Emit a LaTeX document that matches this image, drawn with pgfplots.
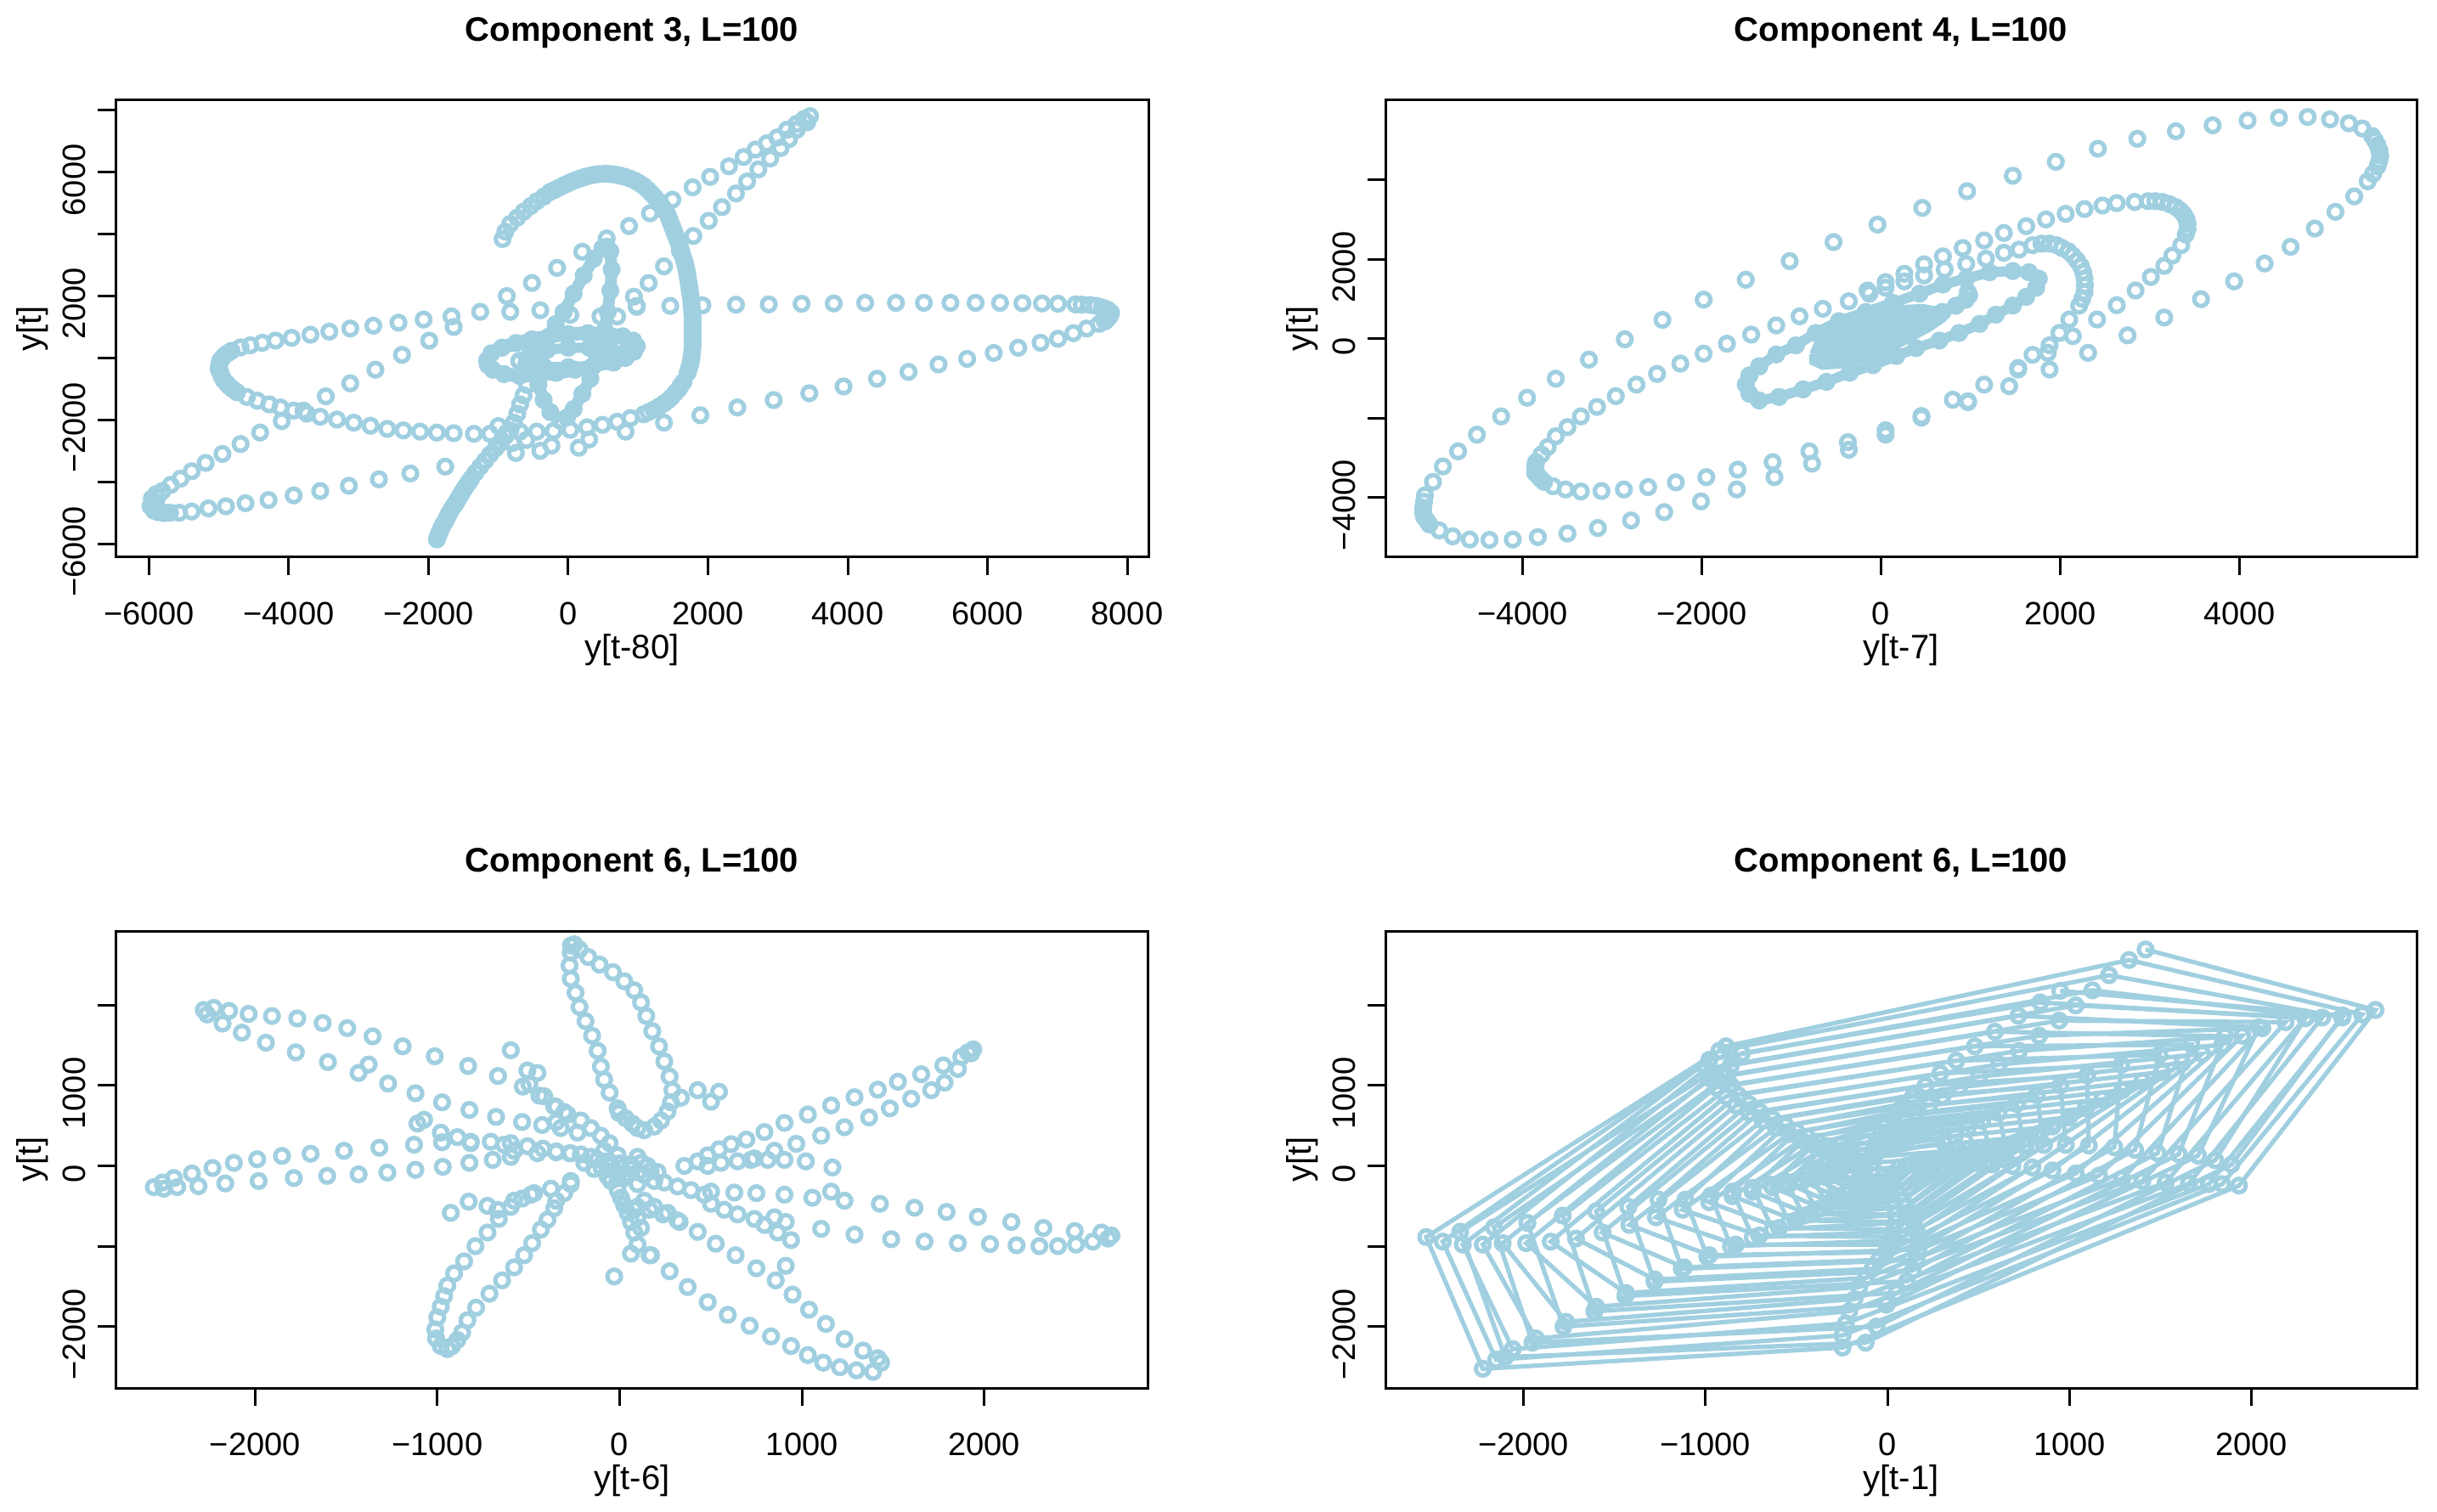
\documentclass[border=0pt]{standalone}
\usepackage{pgfplots}
\pgfplotsset{compat=1.18}
\usepackage{fontspec}
\setmainfont{Liberation Sans}
\definecolor{lb}{HTML}{A0CFE0}
\pgfplotsset{
 rstyle/.style={scale only axis, width=304pt, height=134.5pt, anchor=south west,
  axis line style={line width=0.75pt, black},
  every tick/.style={line width=0.75pt, black},
  tick align=outside, tick pos=left, major tick length=5.25pt,
  xticklabel style={font=\fontsize{9.5}{11}\selectfont, yshift=-4.5pt},
  yticklabel style={font=\fontsize{9.5}{11}\selectfont, rotate=90, anchor=south, xshift=-2.3pt},
  title style={font=\bfseries\fontsize{10}{12}\selectfont, at={(axis description cs:0.5,1.103)}, anchor=center},
  xlabel style={font=\fontsize{10}{12}\selectfont, at={(axis description cs:0.5,-0.2026)}, anchor=center},
  ylabel style={font=\fontsize{10}{12}\selectfont, at={(axis description cs:-0.0806,0.5)}, anchor=center},
  clip=false},
 pts/.style={only marks, mark=o, mark size=2pt, color=lb, mark options={line width=1.3pt}},
 band/.style={color=lb, line width=#1, mark=o, mark size=2pt, mark options={line width=1.3pt}},
}
\begin{document}
\begin{tikzpicture}
\path[use as bounding box] (0,0) rectangle (717.25pt,444.75pt);
% ---------------- Panel 1 ----------------
\begin{axis}[rstyle, at={(34pt,280.75pt)},
  xmin=-6480, xmax=8304, ymin=-6436, ymax=8324,
  xtick={-6000,-4000,-2000,0,2000,4000,6000,8000},
  xticklabels={−6000,−4000,−2000,0,2000,4000,6000,8000},
  ytick={-6000,-4000,-2000,0,2000,4000,6000,8000},
  yticklabels={−6000,,−2000,,2000,,6000,},
  title={Component 3, L=100}, xlabel={y[t-80]}, ylabel={y[t]}]
\addplot[pts] coordinates {
(-5930,-4690) (-5960,-4540) (-5980,-4790) (-5930,-4930) (-5870,-4980) (-5790,-5010) (-5700,-5000) (-5570,-5000) (-5390,-4960) (-5150,-4860) (-4900,-4790) (-4620,-4690) (-4290,-4590) (-3930,-4440) (-3550,-4300) (-3140,-4130) (-2710,-3920) (-2260,-3730) (-1760,-3510)
(-5900,-4400) (-5830,-4950)
(-750,-3070) (-240,-2830) (300,-2630) (820,-2380) (1370,-2090) (1890,-1850) (2420,-1600) (2940,-1360) (3450,-1140) (3940,-920) (4420,-670) (4870,-450) (5300,-210) (5710,-30) (6090,160) (6440,330) (6760,490) (7010,620) (7230,800) (7420,950) (7600,1100) (7710,1240) (7760,1390) (7730,1540) (7640,1630) (7470,1710) (7260,1730) (7010,1750) (6780,1760) (6500,1770) (6180,1780) (5830,1780) (5470,1780) (5090,1780) (4690,1780) (4250,1780) (3800,1760) (3340,1750) (2870,1730) (2400,1720) (1920,1700) (1460,1680) (980,1650) (700,1340)
(7680,1180) (7740,1320) (7770,1460) (7700,1580) (7560,1680) (7350,1720)
(3420,7610) (3270,7370) (3160,7070) (3040,6780) (2890,6440) (2720,6090) (2560,5700) (2400,5310) (2200,4870) (2010,4430) (1790,3940) (1600,3450) (1370,2960) (1150,2420) (940,1980) (980,1680)
(3460,7810) (3370,7710) (3270,7560) (3130,7370) (2990,7120) (2840,6930) (2680,6730) (2510,6490) (2300,6190) (2030,5850) (1780,5510) (1490,5110) (1170,4670) (870,4260) (550,3860) (200,3430) (-160,2910) (-520,2420) (-880,2000) (-1260,1490) (-1670,1340) (-2070,1240) (-2430,1140) (-2790,1040) (-3120,950) (-3420,850) (-3690,750) (-3960,650) (-4190,560) (-4380,490) (-4550,410) (-4690,340) (-4820,230) (-4910,100) (-4980,-80) (-5000,-280) (-4980,-470) (-4930,-720) (-4850,-920) (-4740,-1110) (-4600,-1260) (-4450,-1380) (-4280,-1500) (-4120,-1600) (-3930,-1700) (-3740,-1800) (-3550,-1900) (-3310,-1990) (-3070,-2090) (-2830,-2190) (-2590,-2290) (-2360,-2340) (-2120,-2380) (-1880,-2410) (-1640,-2430) (-1350,-2450) (-1120,-2450) (-880,-2410) (-690,-2380) (-450,-2380) (-210,-2360) (30,-2320) (270,-2240) (490,-2160) (700,-2060) (890,-1940) (1080,-1820) (1220,-1670) (1370,-1470) (1480,-1260) (1580,-1010) (1650,-770) (1710,-470) (1750,-180) (1770,115) (1780,410) (1780,700) (1780,1000) (1780,1290) (1770,1590) (1760,1880) (1740,2170) (1720,2470) (1700,2760) (1670,3060) (1630,3350) (1590,3640) (1540,3940) (1490,4230) (1440,4530) (1370,4820) (1290,5060) (1190,5310) (1080,5550) (960,5720) (810,5850) (670,5920) (530,5950) (380,5920) (240,5850) (110,5750) (-20,5620) (-140,5490) (-260,5360) (-350,5210) (-450,5060) (-540,4900) (-640,4720) (-730,4530) (-830,4330) (-900,4080) (-940,3840)
(1730,-320) (1760,-30) (1775,260) (1780,555) (1780,850) (1780,1145) (1775,1440) (1765,1735) (1750,2020) (1730,2320) (1710,2615) (1685,2910) (1650,3200) (1610,3500) (1565,3790) (1515,4080) (1465,4380) (1410,4680) (1330,4940) (1240,5190) (1140,5430) (1020,5640) (890,5790) (740,5890) (600,5940) (450,5940) (310,5890) (175,5800) (45,5690) (-80,5560) (-200,5420) (1610,-890) (1530,-1130) (1430,-1370) (1300,-1570) (1150,-1750)
(-4950,0) (-4860,170) (-4990,-180) (-5000,-380) (-4960,-600) (-4890,-820) (-4800,-1010)
(-1640,1000) (-1990,560) (-2380,100) (-2760,-380) (-3120,-820) (-3470,-1240) (-3790,-1700) (-4100,-2040) (-4410,-2410) (-4690,-2780) (-4950,-3100) (-5190,-3390) (-5390,-3660) (-5550,-3900) (-5690,-4100) (-5810,-4300) (-5880,-4490)
(-1880,-5860) (-1850,-5670) (-1810,-5470) (-1760,-5280) (-1720,-5080) (-1670,-4880) (-1610,-4690) (-1560,-4490) (-1510,-4300) (-1450,-4100) (-1390,-3900) (-1330,-3710) (-1260,-3510) (-1190,-3320) (-1120,-3120) (-1040,-2920) (-960,-2730) (-900,-2530) (-830,-2340) (-780,-2090) (-730,-1800) (-690,-1500) (-640,-1210) (-590,-870)
(-1865,-5760) (-1830,-5570) (-1790,-5370) (-1740,-5180) (-1695,-4980) (-1640,-4780) (-1585,-4590) (-1535,-4400) (-1480,-4200) (-1420,-4000)
(-830,1490) (-400,1540) (30,1390) (460,1340) (-800,-2750) (-400,-3000) (150,-2900) (-1000,-2200) (-600,-2650)
};
\addplot[band=4pt] coordinates {
(-1160,-80) (-1100,150) (-950,330) (-750,480) (-520,600) (-270,700) (0,770) (280,800) (550,780) (780,700) (930,560) (980,380) (940,200) (800,30) (600,-120) (360,-260) (100,-380) (-170,-480) (-440,-560) (-700,-580) (-920,-520) (-1080,-380) (-1150,-230) (-1160,-80)
};
\addplot[band=3pt] coordinates {
(-700,-100) (-550,120) (-300,260) (0,330) (300,330) (600,280) (800,150) (820,0) (650,-150) (350,-260) (0,-300) (-350,-280) (-600,-200) (-700,-100)
};
\addplot[band=3.5pt] coordinates {
(-114,-2021) (-257,-1747) (-352,-1355) (-428,-865) (-447,-375) (-400,115) (-304,605) (-180,1095) (-66,1487) (77,2075) (220,2663) (364,3202) (488,3545) (554,3594)
(602,3447) (621,2859) (602,2173) (564,1487) (526,899) (488,409) (411,-81) (316,-669) (201,-1159) (77,-1649) (-18,-1923) (-114,-2021)
};
\end{axis}
% ---------------- Panel 2 ----------------
\begin{axis}[rstyle, at={(407.75pt,280.75pt)}, width=303.5pt,
  xmin=-5531, xmax=5976, ymin=-5506, ymax=6002,
  xtick={-4000,-2000,0,2000,4000},
  xticklabels={−4000,−2000,0,2000,4000},
  ytick={-4000,-2000,0,2000,4000},
  yticklabels={−4000,,0,2000,},
  title={Component 4, L=100}, xlabel={y[t-7]}, ylabel={y[t]}]
\addplot[color=lb, fill=lb, line width=2pt] coordinates {
(-764,-397) (-690,-15) (-504,328) (-207,634) (128,749) (463,787) (649,710) (686,481) (537,252) (314,-15) (91,-283) (-170,-512) (-430,-665) (-653,-703) (-764,-588) (-764,-397)
};
\addplot[band=3pt] coordinates {
(600,600) (686,672) (834,825) (946,978) (983,1092) (968,1169)
};
\addplot[band=3pt] coordinates {
(-1360,-700) (-1170,-400) (-950,-170) (-730,140) (-470,440) (-170,670) (130,900) (430,1130) (690,1360) (950,1510) (1210,1670) (1470,1700) (1650,1670) (1760,1510) (1730,1280) (1620,1050) (1470,830) (1280,600) (1100,370) (870,140) (650,-50) (390,-240) (170,-440) (-90,-670) (-350,-860) (-610,-1090) (-870,-1280) (-1140,-1470) (-1360,-1560) (-1470,-1390) (-1510,-1160) (-1470,-930) (-1360,-700)
};
\addplot[pts] coordinates {
(4440,5560) (4760,5580) (5010,5520) (5220,5420) (5370,5290) (5480,5100) (5540,4870) (5570,4610) (5540,4340) (5430,3960) (5280,3580) (5070,3190) (4840,2770) (4570,2310) (4280,1890) (3940,1440) (3570,990) (3160,530) (2750,80) (2310,-360) (1880,-780) (1430,-1200) (970,-1600) (450,-1990) (50,-2420) (-360,-2800) (-770,-3150) (-1190,-3490) (-1610,-3800) (-2010,-4100) (-2420,-4370) (-2790,-4580) (-3160,-4770) (-3500,-4910) (-3830,-5000) (-4110,-5060) (-4370,-5070) (-4590,-5060) (-4780,-4980) (-4930,-4830) (-5040,-4680) (-5100,-4490) (-5110,-4260) (-5090,-3950) (-5000,-3610) (-4890,-3220) (-4720,-2840) (-4510,-2420) (-4240,-1960) (-3950,-1490) (-3630,-1010) (-3260,-530) (-2860,-20) (-2440,470) (-1980,980) (-1510,1480) (-1020,1950) (-530,2430) (-40,2870) (460,3290) (960,3710) (1470,4100) (1950,4450) (2420,4780) (2860,5030) (3290,5220) (3700,5370) (4090,5490)
(5510,4990) (5560,4740) (5560,4480) (5490,4150) (-5070,-4580) (-5110,-4380) (-5100,-4110)
(3400,2620) (3350,2350) (3250,2090) (3160,1830) (3010,1550) (2840,1210) (2630,840) (2410,480) (2140,60) (1860,-360) (1530,-780) (1150,-1160) (800,-1540) (450,-1950) (50,-2310) (-370,-2610) (-800,-2840) (-1210,-3110) (-1600,-3300) (-1950,-3490) (-2290,-3620) (-2600,-3740) (-2870,-3800) (-3120,-3840) (-3350,-3850) (-3520,-3800) (-3660,-3720) (-3760,-3610) (-3830,-3450) (-3860,-3300) (-3850,-3110) (-3790,-2920) (-3720,-2730) (-3630,-2460) (-3500,-2230) (-3350,-1960) (-3170,-1720) (-2960,-1450) (-2730,-1160) (-2500,-890) (-2240,-630) (-1980,-380) (-1720,-130) (-1450,100) (-1170,330) (-910,560) (-650,750) (-360,940) (-150,1210) (50,1420) (260,1630) (480,1870) (690,2070) (910,2280) (1150,2470) (1370,2660) (1620,2830) (1840,3000) (2060,3140) (2270,3260) (2470,3350) (2630,3410) (2830,3440) (2980,3460) (3140,3440) (3290,3310) (3380,3120) (3420,2890)
(3060,3460) (3220,3380) (3340,3220) (3410,3000) (3420,2760) (-3800,-3530) (-3860,-3380) (-3860,-3200)
(1690,2350) (1880,2390) (2020,2280) (2140,2090) (2230,1820) (2270,1510) (2270,1170) (2210,830) (2100,480) (1990,140) (1880,-170) (1690,-410) (1530,-740) (970,-1580)
(1540,2240) (1370,2160) (1170,2010) (950,1880) (710,1740) (480,1590) (260,1440) (50,1280) (-130,1130)
(1790,2390) (1960,2350) (2090,2200) (2190,1960) (2255,1670) (2275,1340) (2245,1000)
};
\end{axis}
% ---------------- Panel 3 ----------------
\begin{axis}[rstyle, at={(34pt,36.25pt)},
  xmin=-2765, xmax=2900, ymin=-2764, ymax=2922,
  xtick={-2000,-1000,0,1000,2000},
  xticklabels={−2000,−1000,0,1000,2000},
  ytick={-2000,-1000,0,1000,2000},
  yticklabels={−2000,,0,1000,},
  title={Component 6, L=100}, xlabel={y[t-6]}, ylabel={y[t]}]
\addplot[pts] coordinates {
(-2281,1939) (-2226,1965) (-2142,1928) (-2035,1890) (-1907,1864) (-1768,1834) (-1629,1777) (-1494,1713) (-1355,1611) (-1190,1487) (-1014,1363) (-831,1242) (-667,1118) (-531,986) (-440,873) (-359,741) (-286,639) (-213,564) (-158,470) (-103,376) (-55,282)
(-2262,1883) (-2178,1770) (-2072,1657) (-1940,1532) (-1776,1412) (-1600,1291) (-1432,1156) (-1270,1024) (-1120,903) (-974,790) (-824,696) (-678,609) (-535,545) (-425,508) (-323,470) (-231,413)
(-1377,1261) (-597,1438) (-506,1186) (-451,1156) (-495,1016) (-414,866) (-348,734) (-304,670) (-348,545) (-1109,526) (-1073,572) (-981,413) (-890,357) (-817,282) (-634,263) (-579,187)
(-2555,-265) (-2508,-208) (-2445,-152) (-2346,-95) (-2233,-27) (-2116,37) (-1988,82) (-1852,123) (-1695,150) (-1512,187) (-1318,225) (-1128,263) (-974,293) (-817,300) (-707,300) (-597,282) (-506,244) (-421,214) (-348,180) (-275,157) (-213,142)
(-2500,-284) (-2427,-265) (-2310,-253) (-2163,-219) (-1980,-189) (-1787,-152) (-1604,-125) (-1432,-106) (-1274,-84) (-1120,-50) (-970,-12) (-824,37) (-696,74) (-597,112) (-451,157) (-348,169) (-268,157)
(-11,715) (-55,911) (-85,1073) (-103,1235) (-121,1431) (-151,1619) (-187,1800) (-220,1977) (-242,2154) (-268,2327) (-275,2493) (-268,2655) (-268,2741) (-249,2757) (-220,2692) (-172,2598) (-110,2504) (-37,2410) (25,2297) (80,2184) (117,2033) (146,1864) (179,1675) (216,1487) (245,1299) (274,1110) (289,941) (281,790) (263,677) (227,564) (190,489) (135,443) (98,470) (69,526) (32,594) (-4,658)
(428,941) (545,922) (501,798) (336,847)
(-158,112) (-85,187) (-11,131) (98,112) (153,-1) (135,-114) (25,-152) (-66,-133) (-140,-39) (-194,37) (-48,-1) (62,-39) (208,-76) (190,-189) (98,-227) (-11,-152) (-120,80) (-60,60) (0,30) (60,20) (120,40) (170,-60) (100,-80) (40,-100) (-30,-60) (-100,-20)
(355,-1) (428,56) (483,131) (545,206) (611,270) (695,327) (794,421) (904,534) (1032,639) (1160,752) (1288,854) (1416,948) (1526,1046) (1654,1140) (1775,1250) (1874,1355) (1910,1412) (1939,1449)
(1928,1400) (1855,1205) (1782,1035) (1709,941) (1599,835) (1482,715) (1368,602) (1233,481) (1105,376) (969,274) (849,187) (739,93) (647,56) (556,37) (483,-1)
(1167,-20) (1021,56) (904,74) (812,74) (720,74)
(2697,-867) (2642,-830) (2496,-811) (2324,-773) (2148,-698) (1965,-634) (1793,-573) (1617,-521) (1427,-472) (1233,-434) (1057,-397) (904,-359) (750,-340) (629,-333) (501,-321) (391,-302) (318,-257) (245,-208)
(2679,-905) (2595,-943) (2503,-980) (2404,-999) (2302,-999) (2177,-988) (2031,-973) (1855,-962) (1672,-943) (1489,-913) (1288,-856) (1105,-784) (940,-924) (911,-698) (849,-641) (794,-736) (739,-660) (647,-604) (574,-547) (501,-472) (464,-359) (1160,-321)
(1434,-2449) (1390,-2563) (1299,-2544) (1208,-2506) (1116,-2449) (1032,-2355) (940,-2242) (830,-2122) (713,-1990) (593,-1854) (483,-1696) (373,-1508) (274,-1312) (172,-1112) (318,-679) (263,-585) (190,-510) (135,-434)
(1416,-2393) (1335,-2299) (1233,-2156) (1131,-1967) (1039,-1790) (948,-1602) (856,-1425) (750,-1274) (636,-1112) (527,-969) (428,-822) (329,-698) (238,-604) (164,-547) (98,-510) (911,-1244) (867,-830)
(-30,-1376) (62,-1093) (164,-1112) (98,-980) (80,-830) (62,-698) (44,-585) (25,-491) (7,-397) (-11,-302) (-48,-189) (80,-547) (98,-641) (117,-773)
(-268,-227) (-304,-340) (-348,-434) (-359,-528) (-396,-671) (-432,-792) (-480,-962) (-524,-1112) (-579,-1263) (-645,-1425) (-714,-1591) (-787,-1764) (-835,-1922) (-864,-2073) (-890,-2167) (-919,-2242) (-945,-2280) (-981,-2242) (-1007,-2148) (-1011,-2035) (-1000,-1885) (-981,-1752) (-963,-1621) (-945,-1489) (-908,-1338) (-853,-1188) (-791,-999) (-725,-830) (-663,-660) (-597,-510) (-535,-408) (-469,-340) (-377,-284) (-268,-189)
(-926,-585) (-828,-446) (-725,-498) (-670,-547) (-579,-434) (-487,-359)
};
\end{axis}
% ---------------- Panel 4 ----------------
\begin{axis}[rstyle, at={(407.75pt,36.25pt)}, width=303.5pt,
  xmin=-2758, xmax=2907, ymin=-2764, ymax=2922,
  xtick={-2000,-1000,0,1000,2000},
  xticklabels={−2000,−1000,0,1000,2000},
  ytick={-2000,-1000,0,1000,2000},
  yticklabels={−2000,,0,1000,},
  title={Component 6, L=100}, xlabel={y[t-1]}, ylabel={y[t]}]
\addplot[band=1.3pt] coordinates {
(1418,2692) (2681,1939) (1931,-246) (-247,-2261) (-2223,-2525) (-2534,-886) (-887,1487)
(1327,2561) (2608,1883) (1839,-227) (-247,-2110) (-2150,-2412) (-2443,-943) (-924,1431)
(1217,2372) (2498,1845) (1766,-227) (-229,-1960) (-2059,-2280) (-2333,-980) (-979,1318)
(1126,2184) (2388,1845) (1656,-219) (-210,-1809) (-1931,-2148) (-2223,-980) (-997,1205)
(1034,1996) (2297,1845) (1528,-208) (-181,-1658) (-1766,-1941) (-2114,-962) (-979,1091)
(943,1807) (2187,1788) (1400,-189) (-155,-1508) (-1601,-1753) (-1985,-962) (-942,978)
(833,1619) (2059,1713) (1290,-159) (-119,-1395) (-1436,-1583) (-1850,-943) (-887,865)
(723,1431) (1949,1619) (1162,-121) (-82,-1282) (-1279,-1414) (-1711,-905) (-833,752)
(613,1261) (1839,1506) (1034,-95) (-46,-1169) (-1118,-1263) (-1565,-830) (-759,658)
(503,1110) (1729,1393) (906,-57) (-9,-1075) (-979,-1112) (-1418,-735) (-686,564)
(394,978) (1620,1280) (796,-20) (9,-980) (-833,-980) (-1272,-641) (-613,470)
(302,865) (1510,1167) (686,-1) (28,-886) (-704,-867) (-1125,-547) (-540,395)
(229,752) (1400,1054) (577,18) (38,-792) (-595,-773) (-979,-453) (-474,319)
(156,658) (1290,941) (485,37) (46,-698) (-503,-679) (-851,-378) (-412,263)
(101,564) (1180,828) (412,44) (46,-604) (-430,-604) (-741,-321) (-357,206)
(46,470) (1089,715) (339,56) (38,-510) (-364,-528) (-631,-265) (-309,157)
(9,376) (997,602) (284,56) (28,-434) (-313,-453) (-540,-227) (-265,112)
(-27,282) (906,489) (229,44) (17,-359) (-265,-396) (-467,-189) (-229,74)
(-57,187) (833,376) (174,37) (9,-302) (-229,-340) (-401,-159) (-192,37)
(-71,112) (760,263) (137,18) (2,-246) (-203,-284) (-349,-136) (-166,7)
(-82,37) (705,169) (101,-1) (-9,-189) (-181,-235) (-302,-114) (-145,-20)
(-82,-39) (650,74) (64,-20) (-20,-133) (-166,-189) (-265,-95) (-126,-39)
};
\addplot[band=1.3pt] coordinates {
(949,2177) (2501,1870) (1890,16) (-120,-2200) (-2100,-2380) (-2347,-820) (-800,1400)
(839,2033) (2296,1836) (1800,70) (-60,-2000) (-1950,-2200) (-2162,-765) (-860,1250)
(719,1867) (2040,1723) (1706,127) (-5,-1728) (-1780,-2000) (-1978,-710) (-880,1120)
(590,1669) (1854,1613) (1600,145) (50,-1580) (-1610,-1810) (-1784,-620) (-860,1000)
(480,1487) (1670,1508) (1484,158) (107,-1435) (-1440,-1620) (-1600,-565) (-820,880)
(378,1308) (1494,1382) (1360,200) (140,-1300) (-1280,-1440) (-1424,-510) (-760,770)
(290,1150) (1284,1256) (1246,232) (160,-1170) (-1130,-1280) (-1258,-420) (-700,670)
(210,1000) (1097,1126) (1106,253) (170,-1040) (-990,-1130) (-1110,-420) (-630,580)
(140,860) (950,1000) (980,260) (170,-920) (-860,-1000) (-970,-370) (-560,500)
(80,730) (820,880) (860,260) (160,-810) (-740,-890) (-850,-320) (-500,425)
(30,610) (710,770) (750,250) (145,-700) (-630,-790) (-740,-275) (-440,360)
(-10,500) (610,660) (650,235) (125,-600) (-540,-700) (-640,-235) (-385,300)
(-40,400) (520,560) (560,215) (105,-510) (-460,-620) (-555,-200) (-335,245)
(-60,300) (440,460) (480,190) (85,-430) (-390,-545) (-480,-170) (-290,195)
(-75,210) (370,370) (410,165) (65,-360) (-330,-480) (-415,-145) (-250,150)
(-85,130) (310,290) (350,140) (45,-300) (-280,-420) (-360,-125) (-215,110)
};
\end{axis}
\end{tikzpicture}
\end{document}
